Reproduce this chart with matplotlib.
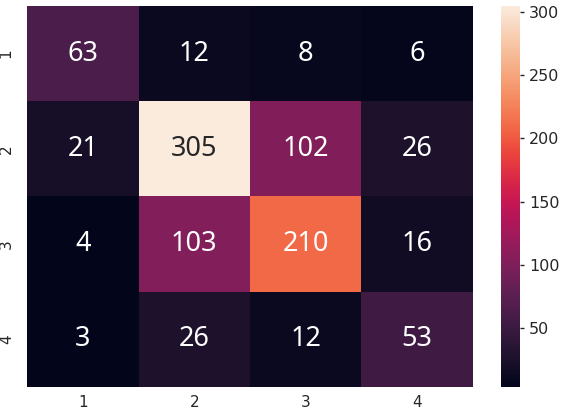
import numpy as np
import matplotlib
matplotlib.use('Agg')
import matplotlib.pyplot as plt
import seaborn as sns

# confusion matrix values
labels = ['1', '2', '3', '4']
row1 = [63, 12, 8, 6]
row2 = [21, 305, 102, 26]
row3 = [4, 103, 210, 16]
row4 = [3, 26, 12, 53]

cm = np.array([row1, row2, row3, row4])

sns.set_theme(style='darkgrid')

fig = plt.figure(figsize=(5.68, 4.11), dpi=100)
ax = fig.add_axes([27 / 568, 24 / 411, 446 / 568, 381 / 411])
cax = fig.add_axes([501 / 568, 24 / 411, 19 / 568, 381 / 411])

sns.heatmap(cm, annot=True, fmt='d', ax=ax, cbar_ax=cax,
            xticklabels=labels, yticklabels=labels,
            annot_kws={'size': 19.5, 'family': 'Noto Sans'})

ax.tick_params(axis='x', length=0, pad=6)
cax.tick_params(size=3, width=1, color='.15', labelsize=11.5)
cax.yaxis.set_ticks_position('right')

fig.savefig('out.png', dpi=100)
